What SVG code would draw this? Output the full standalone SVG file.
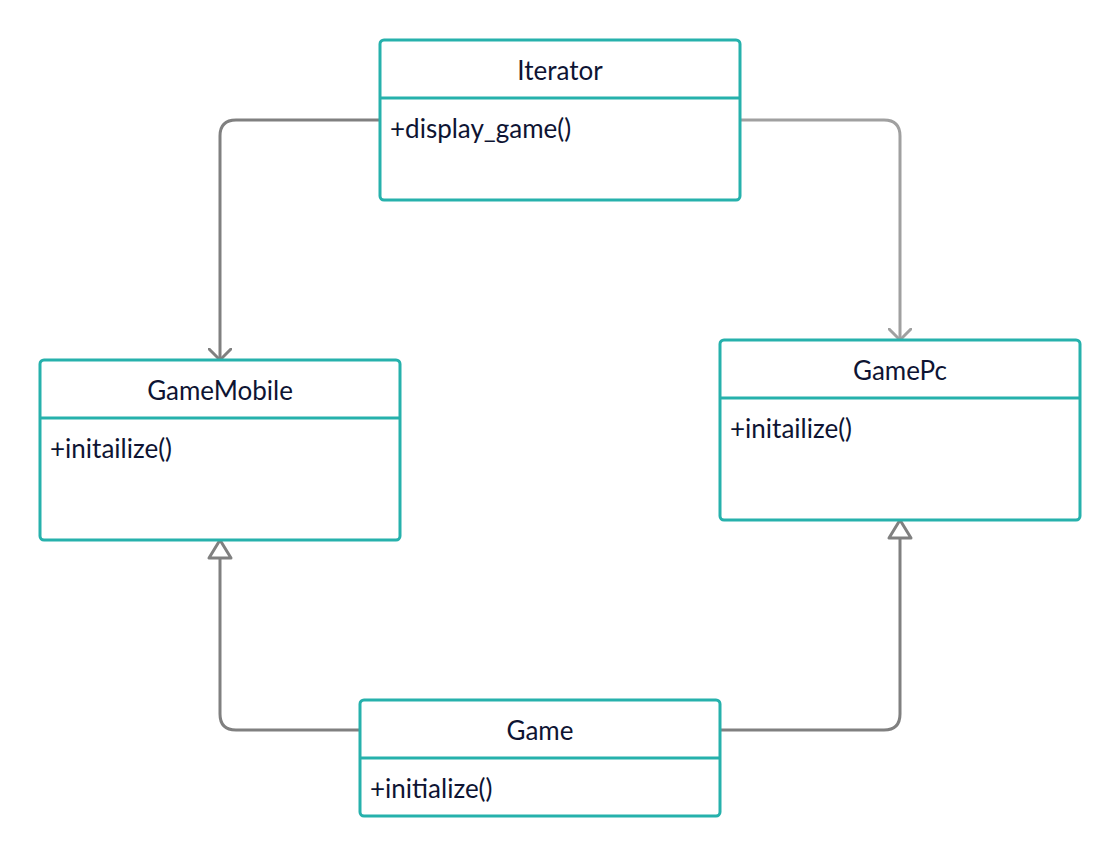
<svg xmlns="http://www.w3.org/2000/svg" width="1120" height="856" viewBox="0 0 1120 856">
<defs>
<style>
.box{fill:#fff;stroke:#26b1ac;stroke-width:3}
.sep{stroke:#26b1ac;stroke-width:3}
.t{font-family:Lato,"Liberation Sans",sans-serif;font-size:26px;fill:#0e1433}
.c{text-anchor:middle}
.e{fill:none;stroke:#808080;stroke-width:3;stroke-linejoin:round}
.e2{fill:none;stroke:#a0a0a0;stroke-width:3;stroke-linejoin:round}
</style>
<marker id="open" markerWidth="24" markerHeight="24" viewBox="-12 -12 24 24" refX="0" refY="0" orient="auto" markerUnits="userSpaceOnUse">
<path d="M-11,-11 L0,0 L-11,11" fill="none" stroke="#808080" stroke-width="3" stroke-linecap="round"/>
</marker>
<marker id="open2" markerWidth="24" markerHeight="24" viewBox="-12 -12 24 24" refX="0" refY="0" orient="auto" markerUnits="userSpaceOnUse">
<path d="M-11,-11 L0,0 L-11,11" fill="none" stroke="#a0a0a0" stroke-width="3" stroke-linecap="round"/>
</marker>
<marker id="tri" markerWidth="28" markerHeight="28" viewBox="-22 -14 28 28" refX="0" refY="0" orient="auto" markerUnits="userSpaceOnUse">
<path d="M0,0 L-18,-11 L-18,11 Z" fill="#fff" stroke="#808080" stroke-width="3" stroke-linejoin="round"/>
</marker>
</defs>
<rect width="1120" height="856" fill="#fff"/>
<g id="connectors">
<path class="e" d="M380,120 H236 Q220,120 220,136 V360" marker-end="url(#open)"/>
<path class="e2" d="M740,120 H884 Q900,120 900,136 V340" marker-end="url(#open2)"/>
<path class="e" d="M360,730 H236 Q220,730 220,714 V540" marker-end="url(#tri)"/>
<path class="e" d="M720,730 H884 Q900,730 900,714 V520" marker-end="url(#tri)"/>
</g>
<g id="Iterator">
<rect class="box" x="380" y="40" width="360" height="160" rx="4"/>
<line class="sep" x1="380" y1="98" x2="740" y2="98"/>
<text class="t c" x="560" y="80">Iterator</text>
<text class="t" x="390" y="138">+display_game()</text>
</g>
<g id="GameMobile">
<rect class="box" x="40" y="360" width="360" height="180" rx="4"/>
<line class="sep" x1="40" y1="418" x2="400" y2="418"/>
<text class="t c" x="220" y="400">GameMobile</text>
<text class="t" x="50" y="458">+initailize()</text>
</g>
<g id="GamePc">
<rect class="box" x="720" y="340" width="360" height="180" rx="4"/>
<line class="sep" x1="720" y1="398" x2="1080" y2="398"/>
<text class="t c" x="900" y="380">GamePc</text>
<text class="t" x="730" y="438">+initailize()</text>
</g>
<g id="Game">
<rect class="box" x="360" y="700" width="360" height="116" rx="4"/>
<line class="sep" x1="360" y1="758" x2="720" y2="758"/>
<text class="t c" x="540" y="740">Game</text>
<text class="t" x="370" y="798">+initialize()</text>
</g>
</svg>
